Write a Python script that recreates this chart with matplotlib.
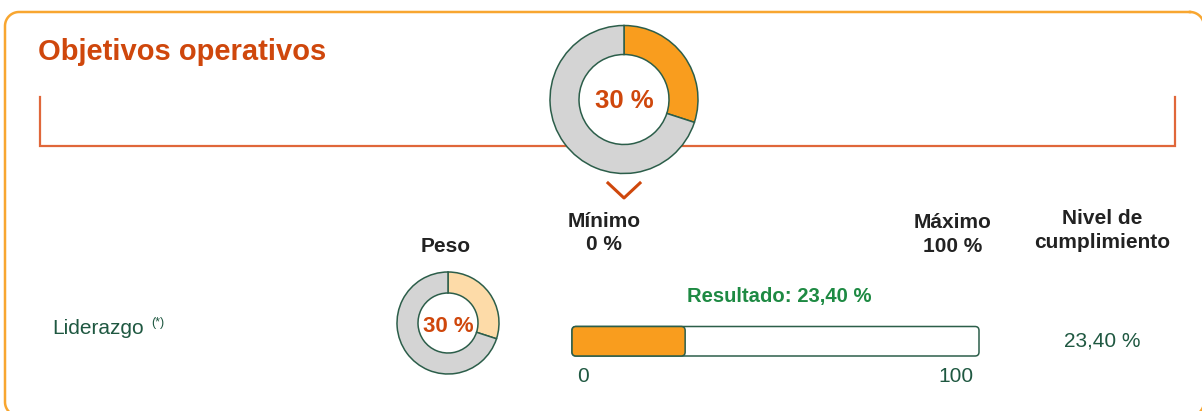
import matplotlib
matplotlib.use('Agg')
import numpy as np
import matplotlib.pyplot as plt
from matplotlib.patches import FancyBboxPatch
from matplotlib.transforms import offset_copy

plt.rcParams['font.family'] = ['Liberation Sans', 'DejaVu Sans']

# --- values ---
title = 'Objetivos operativos'
block_weight = [30, 70]          # big donut: share of this block
item_label = 'Liderazgo'
item_note = '(*)'
item_weight = [30, 70]           # small donut in the "Peso" column
result_value = 23.40
bar_fill = 27.8                  # filled part of the bar as drawn
bar_range = [0, 100]
weight_header = 'Peso'
min_header = ['Mínimo', '0 %']
max_header = ['Máximo', '100 %']
level_header = ['Nivel de', 'cumplimiento']

# colours
border_col = '#F8A630'
title_col = '#CF470C'
bracket_col = '#E0673A'
orange = '#F99D1E'
light_orange = '#FDDBA8'
gray = '#D4D4D4'
edge_green = '#2C5E4A'
text_green = '#1F5841'
result_green = '#1E8A43'
header_col = '#222222'


def pct(v, decimals=0):
    return f'{v:.{decimals}f} %'.replace('.', ',')


def rounded_outline(x0, y0, x1, y1, r, n=20):
    # closed outline of a rounded rectangle (screen coords, y down)
    xs, ys = [], []
    corners = [(x1 - r, y0 + r, -90, 0), (x1 - r, y1 - r, 0, 90),
               (x0 + r, y1 - r, 90, 180), (x0 + r, y0 + r, 180, 270)]
    for cx, cy, a0, a1 in corners:
        t = np.radians(np.linspace(a0, a1, n))
        xs.extend(cx + r * np.cos(t))
        ys.extend(cy + r * np.sin(t))
    xs.append(xs[0])
    ys.append(ys[0])
    return xs, ys


W, H = 1202, 411
fig = plt.figure(figsize=(W / 100, H / 100), dpi=100)
ax = fig.add_axes([0, 0, 1, 1])

# donuts (y axis gets inverted below, so counterclock here = clockwise on screen)
ax.pie(block_weight, colors=[orange, gray], radius=74, center=(624, 99.5),
       startangle=-90, counterclock=True,
       wedgeprops=dict(width=29, edgecolor=edge_green, linewidth=1.1, zorder=3))
ax.pie(item_weight, colors=[light_orange, gray], radius=51, center=(448, 323),
       startangle=-90, counterclock=True,
       wedgeprops=dict(width=21, edgecolor=edge_green, linewidth=1.1, zorder=3))

ax.set_xlim(0, W)
ax.set_ylim(H, 0)
ax.set_aspect('auto')
ax.axis('off')

# outer frame, bottom and right edges fall just outside the picture
fx, fy = rounded_outline(5, 12, 1204, 416, 14)
ax.plot(fx, fy, color=border_col, lw=1.8, zorder=1)

ax.text(38, 59.5, title, fontsize=21, fontweight='bold', color=title_col,
        ha='left', va='baseline')

# bracket under the title
ax.plot([40, 40, 1175, 1175], [97, 146.5, 146.5, 97], color=bracket_col,
        lw=1.6, solid_joinstyle='miter', zorder=2)

ax.text(624, 108, pct(block_weight[0]), fontsize=18.5, fontweight='bold',
        color=title_col, ha='center', va='baseline', zorder=4)

# chevron under the big donut
ax.plot([608, 624, 640], [183, 198, 183], color=title_col, lw=2.2, zorder=4)

# column headers
hdr = dict(fontsize=15, fontweight='bold', color=header_col, ha='center', va='baseline')
ax.text(446, 251.5, weight_header, **hdr)
ax.text(604, 227, min_header[0], **hdr)
ax.text(604, 250, min_header[1], **hdr)
ax.text(952.5, 227.5, max_header[0], **hdr)
ax.text(952.5, 251.5, max_header[1], **hdr)
ax.text(1102.5, 224, level_header[0], **hdr)
ax.text(1102.5, 248, level_header[1], **hdr)

# row
ax.text(52, 334, item_label, fontsize=15, color=text_green, ha='left', va='baseline')
ax.text(151, 325.5, item_note, fontsize=9, color=text_green, ha='left', va='baseline')
ax.text(448, 332, pct(item_weight[0]), fontsize=16, fontweight='bold',
        color=title_col, ha='center', va='baseline', zorder=4)
ax.text(779, 302, 'Resultado: ' + pct(result_value, 2), fontsize=14.6,
        fontweight='bold', color=result_green, ha='center', va='baseline')
ax.text(1102.5, 346.7, pct(result_value, 2), fontsize=15, color=text_green,
        ha='center', va='baseline')

# progress bar in its own axes
bx0, bx1, by0, by1 = 572, 979, 326.5, 356
bar_ax = fig.add_axes([bx0 / W, (H - by1) / H, (bx1 - bx0) / W, (by1 - by0) / H])
bar_ax.set_xlim(*bar_range)
bar_ax.set_ylim(0, 1)
bar_ax.axis('off')
span = bar_range[1] - bar_range[0]
m_aspect = (bx1 - bx0) / ((by1 - by0) * span)
r = 4 * span / (bx1 - bx0)
bar_ax.add_patch(FancyBboxPatch((bar_range[0], 0), span, 1,
                                boxstyle=f'round,pad=0,rounding_size={r}',
                                mutation_aspect=m_aspect, fc='white',
                                ec=edge_green, lw=1.1, clip_on=False))
bar_ax.add_patch(FancyBboxPatch((bar_range[0], 0), bar_fill - bar_range[0], 1,
                                boxstyle=f'round,pad=0,rounding_size={r}',
                                mutation_aspect=m_aspect, fc=orange,
                                ec=edge_green, lw=1.1, clip_on=False))

tick_kw = dict(fontsize=15, color=text_green, va='baseline')
bar_ax.text(bar_range[0], 0, str(bar_range[0]), ha='left',
            transform=offset_copy(bar_ax.transData, fig, x=5, y=-26, units='dots'), **tick_kw)
bar_ax.text(bar_range[1], 0, str(bar_range[1]), ha='right',
            transform=offset_copy(bar_ax.transData, fig, x=-5, y=-26, units='dots'), **tick_kw)

fig.savefig('out.png', dpi=100, facecolor='white')
